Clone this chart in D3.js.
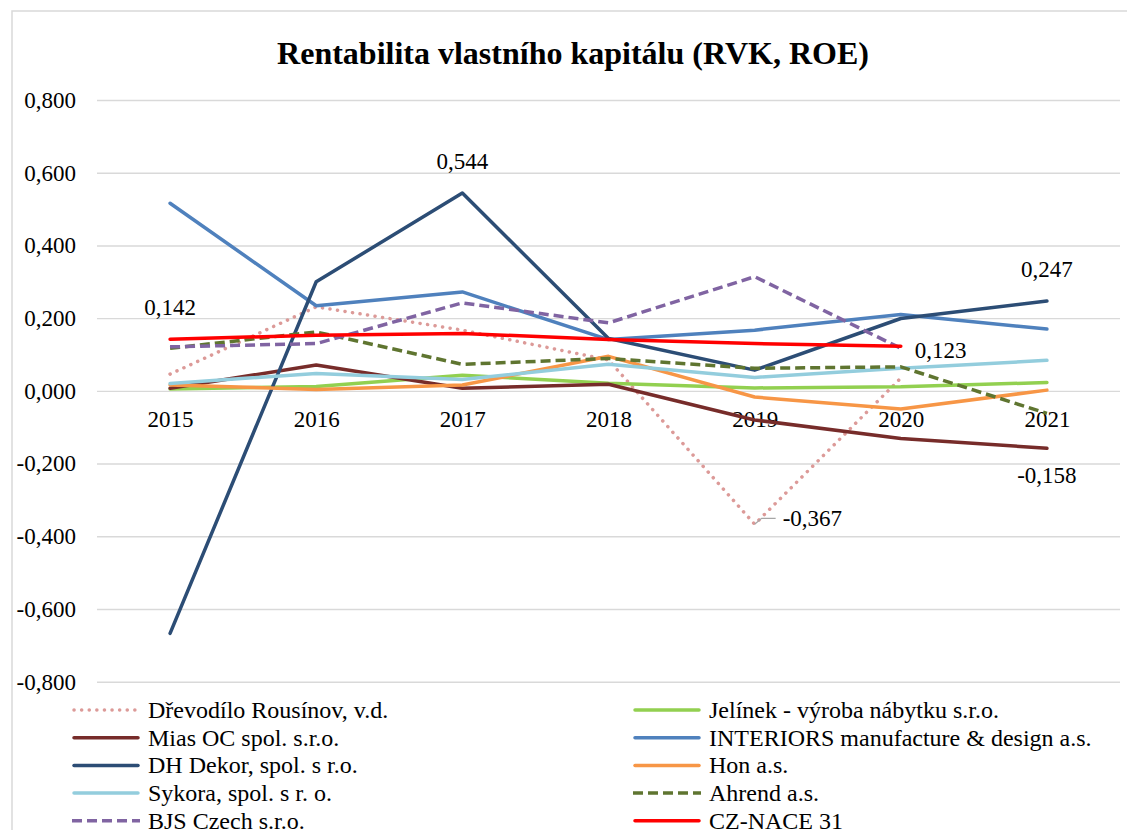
<!DOCTYPE html>
<html>
<head>
<meta charset="utf-8">
<script src="https://cdn.jsdelivr.net/npm/d3@7"></script>
<style>
  body { margin: 0; background: #fff; }
  svg text { font-family: 'Liberation Serif', 'Times New Roman', Times, 'DejaVu Serif', serif !important; fill: #000; }
</style>
</head>
<body>
<div id="chart"></div>
<script>
var years = ['2015', '2016', '2017', '2018', '2019', '2020', '2021'];
var yTicks = [-0.8, -0.6, -0.4, -0.2, 0, 0.2, 0.4, 0.6, 0.8];

// values (null = no point)
var drevodilo = [0.046, 0.231, 0.167, 0.085, -0.367, 0.035, null];
var jelinek   = [0.005, 0.012, 0.043, 0.021, 0.008, 0.011, 0.023];
var mias      = [0.007, 0.071, 0.007, 0.018, -0.080, -0.131, -0.158];
var interiors = [0.516, 0.234, 0.272, 0.141, 0.167, 0.210, 0.170];
var dhDekor   = [-0.667, 0.300, 0.544, 0.144, 0.057, 0.199, 0.247];
var hon       = [0.016, 0.004, 0.016, 0.095, -0.017, -0.050, 0.002];
var sykora    = [0.020, 0.048, 0.031, 0.073, 0.037, 0.062, 0.084];
var ahrend    = [0.117, 0.162, 0.073, 0.089, 0.062, 0.066, -0.062];
var bjs       = [0.121, 0.130, 0.242, 0.187, 0.314, 0.117, null];
var czNace    = [0.142, 0.153, 0.158, 0.141, 0.130, 0.123, null];

var seriesNames = ['Dřevodílo Rousínov, v.d.', 'Jelínek - výroba nábytku s.r.o.', 'Mias OC spol. s.r.o.',
  'INTERIORS manufacture & design a.s.', 'DH Dekor, spol. s r.o.', 'Hon a.s.',
  'Sykora, spol. s r. o.', 'Ahrend a.s.', 'BJS Czech s.r.o.', 'CZ-NACE 31'];
var seriesValues = [drevodilo, jelinek, mias, interiors, dhDekor, hon, sykora, ahrend, bjs, czNace];
var seriesColors = ['#dc9a98', '#92d050', '#772c2a', '#4f81bd', '#2c4d75', '#f79646',
  '#93cddd', '#5f7530', '#8064a2', '#ff0000'];
var seriesDash = ['dot', null, null, null, null, null, null, 'dash', 'dash', null];

// [series index, year index, placement]
var dataLabels = [[9, 0, 'above'], [4, 2, 'above'], [4, 6, 'above'], [9, 5, 'right'],
  [2, 6, 'below'], [0, 4, 'leader']];

var svgWidth = 1127;
var svgHeight = 830;
var serif = "'Liberation Serif', 'Times New Roman', Times, 'DejaVu Serif', serif";

var svg = d3.select('#chart').append('svg')
  .attr('width', svgWidth).attr('height', svgHeight)
  .attr('font-family', serif);

// chart area border
svg.append('path')
  .attr('d', 'M12,' + svgHeight + 'V11H' + svgWidth)
  .attr('fill', 'none').attr('stroke', '#d9d9d9').attr('stroke-width', 1.5);

svg.append('text')
  .attr('x', 573).attr('y', 64)
  .attr('text-anchor', 'middle')
  .style('font-size', '32px').style('font-weight', 'bold')
  .text('Rentabilita vlastního kapitálu (RVK, ROE)');

var x = d3.scalePoint().domain(years).range([97, 1120]).padding(0.5);
var y = d3.scaleLinear().domain([-0.8, 0.8]).range([681.7, 100]);

var fmt = function(v) { return d3.format('.3f')(v).replace('.', ',').replace('−', '-'); };

// gridlines + y labels
var yAxis = d3.axisLeft(y).tickValues(yTicks).tickSize(-(1120 - 97)).tickPadding(21).tickFormat(fmt);
var yG = svg.append('g').attr('transform', 'translate(97,0)').call(yAxis).attr('font-family', serif);
yG.select('.domain').remove();
yG.selectAll('.tick line').attr('stroke', '#d9d9d9').attr('stroke-width', 1.4);
yG.selectAll('.tick text').style('font-size', '23px');

// category labels just under the zero line
var xAxis = d3.axisBottom(x).tickSize(0).tickPadding(20);
var xG = svg.append('g').attr('transform', 'translate(0,' + y(0) + ')').call(xAxis).attr('font-family', serif);
xG.select('.domain').remove();
xG.selectAll('.tick text').style('font-size', '23px');

var line = d3.line()
  .defined(function(d) { return d != null; })
  .x(function(d, i) { return x(years[i]); })
  .y(function(d) { return y(d); });

seriesValues.forEach(function(vals, s) {
  var p = svg.append('path')
    .attr('d', line(vals))
    .attr('fill', 'none')
    .attr('stroke', seriesColors[s])
    .attr('stroke-width', 3.5)
    .attr('stroke-linejoin', 'round');
  if (seriesDash[s] === 'dot') {
    p.attr('stroke-dasharray', '0.1,7.5').attr('stroke-linecap', 'round');
  } else if (seriesDash[s] === 'dash') {
    p.attr('stroke-dasharray', '10,5');
  } else {
    p.attr('stroke-linecap', 'round');
  }
});

// data labels
dataLabels.forEach(function(l) {
  var v = seriesValues[l[0]][l[1]];
  var px = x(years[l[1]]), py = y(v);
  var t = svg.append('text').style('font-size', '23px').text(fmt(v));
  if (l[2] === 'above') {
    t.attr('x', px).attr('y', py - 24).attr('text-anchor', 'middle');
  } else if (l[2] === 'below') {
    t.attr('x', px).attr('y', py + 35).attr('text-anchor', 'middle');
  } else if (l[2] === 'right') {
    t.attr('x', px + 14).attr('y', py + 12);
  } else {
    svg.append('path')
      .attr('d', 'M' + px + ',' + py + 'L' + (px + 7) + ',' + (py - 6) + 'H' + (px + 21))
      .attr('fill', 'none').attr('stroke', '#a6a6a6').attr('stroke-width', 1.2);
    t.attr('x', px + 28).attr('y', py + 2);
  }
});

// legend, two columns filled row by row
var legend = svg.append('g');
seriesNames.forEach(function(name, s) {
  var col = s % 2, row = Math.floor(s / 2);
  var lx = col === 0 ? 72 : 633;
  var ly = 710 + row * 27.7;
  var sample = legend.append('line')
    .attr('x1', lx).attr('x2', lx + 68)
    .attr('y1', ly).attr('y2', ly)
    .attr('stroke', seriesColors[s]).attr('stroke-width', 3.5);
  if (seriesDash[s] === 'dot') {
    sample.attr('stroke-dasharray', '0.1,7.5').attr('stroke-linecap', 'round')
      .attr('x1', lx + 2).attr('x2', lx + 66);
  } else if (seriesDash[s] === 'dash') {
    sample.attr('stroke-dasharray', '10,5');
  } else {
    sample.attr('stroke-linecap', 'round').attr('x1', lx + 2).attr('x2', lx + 66);
  }
  legend.append('text')
    .attr('x', lx + 76).attr('y', ly + 8)
    .style('font-size', '24px')
    .text(name);
});
</script>
</body>
</html>
